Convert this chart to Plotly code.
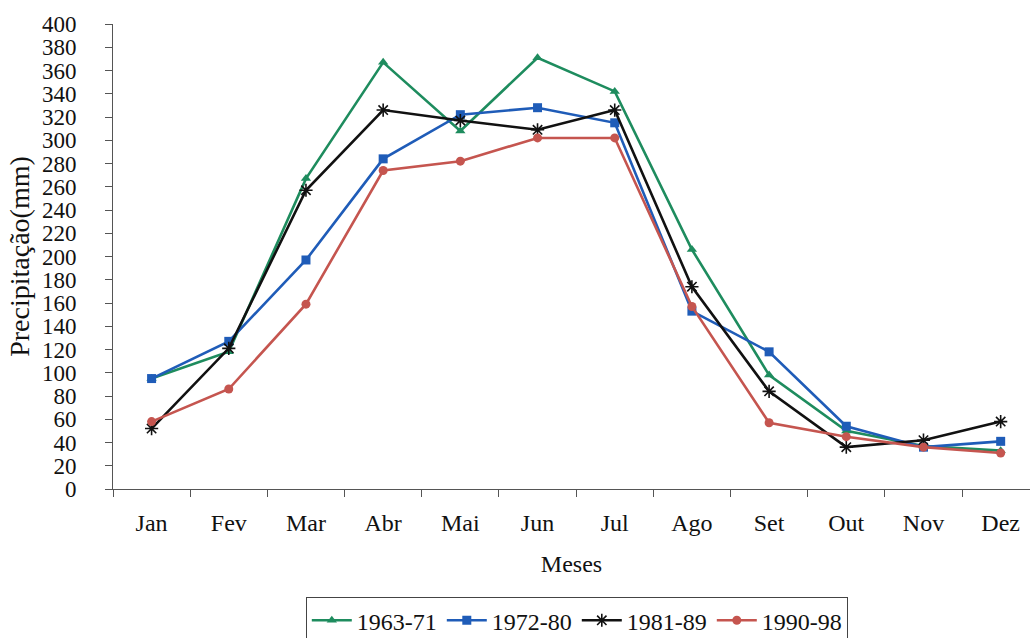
import plotly.graph_objects as go

months = ["Jan", "Fev", "Mar", "Abr", "Mai", "Jun", "Jul", "Ago", "Set", "Out", "Nov", "Dez"]
s1963_71 = [95, 118, 267, 367, 308, 371, 342, 206, 98, 50, 37, 33]
s1972_80 = [95, 127, 197, 284, 322, 328, 315, 153, 118, 54, 36, 41]
s1981_89 = [52, 121, 257, 326, 317, 309, 326, 174, 84, 36, 42, 58]
s1990_98 = [58, 86, 159, 274, 282, 302, 302, 157, 57, 45, 36, 31]
y_ticks = list(range(0, 401, 20))

series = [
    ("1963-71", s1963_71, "#1e8c5e", "triangle-up", 9),
    ("1972-80", s1972_80, "#1f5cb8", "square", 9),
    ("1981-89", s1981_89, "#111111", "asterisk-open", 11),
    ("1990-98", s1990_98, "#c5554f", "circle", 9),
]

fig = go.Figure()
for name, vals, color, sym, size in series:
    fig.add_trace(go.Scatter(
        x=months, y=vals, name=name, mode="lines+markers",
        line=dict(color=color, width=2.6),
        marker=dict(symbol=sym, size=size, color=color,
                    line=dict(color=color, width=1.6 if sym == "asterisk-open" else 0)),
    ))

ff = "Times New Roman, Liberation Serif, serif"
fig.update_layout(
    width=1030, height=638,
    margin=dict(l=113, r=0, t=24, b=149),
    paper_bgcolor="white", plot_bgcolor="white",
    font=dict(family=ff, size=22, color="#111111"),
    showlegend=True,
    legend=dict(
        orientation="h", xref="container", yref="container",
        x=0.56, xanchor="center", y=0.064, yanchor="top",
        bordercolor="#444444", borderwidth=1,
        font=dict(family=ff, size=24, color="#111111"),
        itemwidth=40, tracegroupgap=0,
    ),
    xaxis=dict(
        type="category", range=[-0.5, 11.38],
        tickson="boundaries", ticks="outside", ticklen=7, tickcolor="#555555",
        showline=True, linecolor="#555555", linewidth=1,
        showgrid=False, zeroline=False,
        tickfont=dict(family=ff, size=24, color="#111111"),
        ticklabelstandoff=12,
        title=dict(text="Meses", standoff=20, font=dict(family=ff, size=24, color="#111111")),
    ),
    yaxis=dict(
        range=[0, 400], tickvals=y_ticks,
        ticks="outside", ticklen=7, tickcolor="#555555",
        showline=True, linecolor="#555555", linewidth=1,
        showgrid=False, zeroline=False,
        tickfont=dict(family=ff, size=23, color="#111111"),
        ticklabelstandoff=24,
        title=dict(text="Precipitação(mm)", standoff=4, font=dict(family=ff, size=28, color="#111111")),
    ),
)

fig.write_html("out.html")
